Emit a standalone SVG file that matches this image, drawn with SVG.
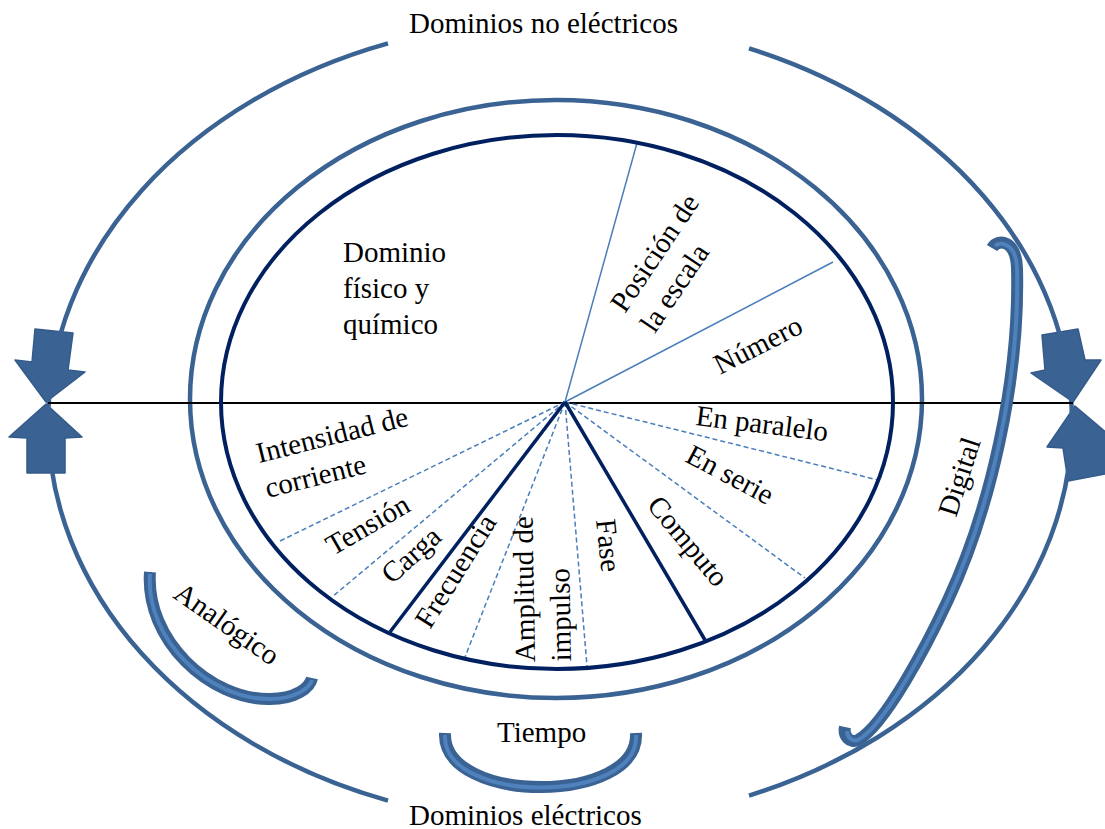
<svg xmlns="http://www.w3.org/2000/svg" width="1105" height="829" viewBox="0 0 1105 829">
<style>
.t{font-family:"Liberation Serif","Times New Roman",serif;font-size:29px;fill:#000}
.ring{fill:none;stroke:#3A6393;stroke-width:4.5}
.inner{fill:none;stroke:#002060;stroke-width:4}
.navy{stroke:#002060;stroke-width:3.5}
.thin{stroke:#4A7EBB;stroke-width:1.5}
.dash{stroke:#4A7EBB;stroke-width:1.5;stroke-dasharray:5 3}
.arr{fill:#3A6393;stroke:#335A8A;stroke-width:1.5;stroke-linejoin:round}
.bro{fill:none;stroke:#3A6393;stroke-width:12;stroke-linecap:butt;stroke-linejoin:round}
.bri{fill:none;stroke:#4F81BD;stroke-width:4;stroke-linecap:butt}
</style>
<rect width="1105" height="829" fill="#fff"/>
<g id="arrows">
<polygon class="arr" points="35,329 73,333 68,370 85,372 46,402 15,360 32,362"/>
<polygon class="arr" points="46,404 82,437 65,438 65,473 27,473 27,438 9,437"/>
<polygon class="arr" points="1042,335 1078,329 1085,360 1101,360 1073,402 1031,373 1045,370"/>
<polygon class="arr" points="1075,406 1115,440 1108,442 1110,473 1068,481 1063,448 1047,447"/>
</g>
<g id="outer-ring">
<path class="ring" d="M388,43.4 A512,402 0 0 0 388,800.6"/>
<path class="ring" d="M749,48.4 A512,402 0 0 1 749,795.6"/>
</g>
<g id="middle-ring">
<ellipse class="ring" cx="556" cy="399" rx="366" ry="299"/>
</g>
<g id="connectors">
<line x1="48" y1="403" x2="1073" y2="403" stroke="#000" stroke-width="2"/>
<line class="thin" x1="565" y1="402" x2="637" y2="143"/>
<line class="thin" x1="565" y1="402" x2="833" y2="262"/>
<line class="dash" x1="565" y1="402" x2="878" y2="480"/>
<line class="dash" x1="565" y1="402" x2="805" y2="578"/>
<line class="dash" x1="565" y1="402" x2="587" y2="666"/>
<line class="dash" x1="565" y1="402" x2="465" y2="657"/>
<line class="dash" x1="565" y1="402" x2="332" y2="597"/>
<line class="dash" x1="565" y1="402" x2="280" y2="541"/>
<line class="navy" x1="565" y1="402" x2="390" y2="632"/>
<line class="navy" x1="565" y1="402" x2="705" y2="640"/>
</g>
<g id="inner-ring">
<ellipse class="inner" cx="557" cy="402" rx="336" ry="267"/>
</g>
<g id="bracket-analogico">
<path class="bro" d="M150,572 C145,640 210,700 270,699 C295,699 310,688 312,678"/>
<path class="bri" d="M150,574 C145,640 210,700 270,699 C295,699 310,688 312,680"/>
</g>
<g id="bracket-tiempo">
<path class="bro" d="M445,733 C442,805 640,805 636,733"/>
<path class="bri" d="M445,735 C442,805 640,805 636,735"/>
</g>
<g id="bracket-digital">
<path class="bro" d="M992,248 C998,238 1016,240 1017,268 C1020,380 990,510 948,600 C927,645 885,725 858,740 C850,744 843,736 845,727"/>
<path class="bri" d="M995,246 C1000,241 1016,243 1017,268 C1020,380 990,510 948,600 C927,645 885,725 858,740 C852,742 847,737 847,731"/>
</g>
<g id="label-no-electricos"><text class="t" x="409" y="33">Dominios no eléctricos</text></g>
<g id="label-electricos"><text class="t" x="409" y="825">Dominios eléctricos</text></g>
<g id="label-fisico"><text class="t" x="343" y="262">Dominio</text><text class="t" x="343" y="298">físico y</text><text class="t" x="343" y="334">químico</text></g>
<g id="label-posicion"><text class="t" transform="translate(625,314) rotate(-56)">Posición de<tspan x="0" dy="36">la escala</tspan></text></g>
<g id="label-numero"><text class="t" transform="translate(720,375) rotate(-27)">Número</text></g>
<g id="label-paralelo"><text class="t" transform="translate(695,425) rotate(7)">En paralelo</text></g>
<g id="label-serie"><text class="t" transform="translate(684,461) rotate(28)">En serie</text></g>
<g id="label-computo"><text class="t" transform="translate(646,506) rotate(50)">Computo</text></g>
<g id="label-fase"><text class="t" transform="translate(596,520) rotate(84)">Fase</text></g>
<g id="label-amplitud"><text class="t" transform="translate(535,662) rotate(-91)">Amplitud de<tspan x="0" dy="36">impulso</tspan></text></g>
<g id="label-frecuencia"><text class="t" transform="translate(430,630) rotate(-58)">Frecuencia</text></g>
<g id="label-carga"><text class="t" transform="translate(392,585) rotate(-42)">Carga</text></g>
<g id="label-tension"><text class="t" transform="translate(333,556) rotate(-30)">Tensión</text></g>
<g id="label-intensidad"><text class="t" transform="translate(259,463) rotate(-14)">Intensidad de<tspan x="0" dy="36">corriente</tspan></text></g>
<g id="label-analogico"><text class="t" transform="translate(172,597) rotate(35)">Analógico</text></g>
<g id="label-tiempo"><text class="t" x="497" y="742">Tiempo</text></g>
<g id="label-digital"><text class="t" transform="translate(956,518) rotate(-72)">Digital</text></g>
</svg>
